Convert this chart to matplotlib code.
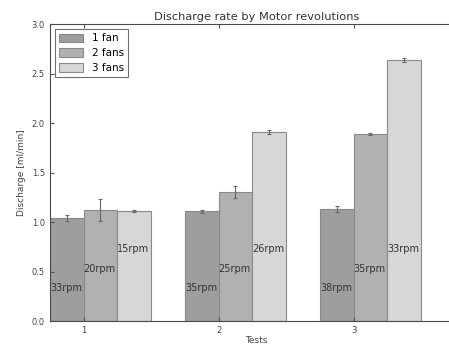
import numpy as np
import matplotlib.pyplot as plt

tests = ['1', '2', '3']
one_fan = [1.04, 1.11, 1.13]
one_fan_err = [0.03, 0.015, 0.03]
two_fans = [1.12, 1.30, 1.89]
two_fans_err = [0.11, 0.06, 0.01]
three_fans = [1.11, 1.91, 2.64]
three_fans_err = [0.01, 0.02, 0.02]
rpm_1 = ['33rpm', '35rpm', '38rpm']
rpm_2 = ['20rpm', '25rpm', '35rpm']
rpm_3 = ['15rpm', '26rpm', '33rpm']
label_y = [0.33, 0.53, 0.73]

ind = np.arange(len(tests))
width = 0.25

fig = plt.figure(figsize=(4.49, 3.49), dpi=100)
# axes run a little past the right edge, the right spine is cut off
ax = fig.add_axes([0.111, 0.080, 0.92, 0.851])

series = [(one_fan, one_fan_err, '#9e9ea1', '1 fan', rpm_1),
          (two_fans, two_fans_err, '#b1b1b4', '2 fans', rpm_2),
          (three_fans, three_fans_err, '#d7d7d9', '3 fans', rpm_3)]

for i, (vals, errs, col, lab, rpms) in enumerate(series):
    x = ind + i * width
    ax.bar(x, vals, width, align='edge', color=col, edgecolor='#8a8a8d',
           linewidth=0.8, label=lab)
    ax.errorbar(x + width / 2, vals, yerr=errs, fmt='none', ecolor='#666666',
                elinewidth=0.8, capsize=1.5, capthick=0.8)
    for xi, r in zip(x, rpms):
        ax.text(xi, label_y[i], r, fontsize=7, color='#333333',
                ha='left', va='center')

ax.set_xlim(0, 3.06)
ax.set_ylim(0, 3.0)
ax.set_yticks(np.arange(0, 3.01, 0.5))
ax.set_yticklabels(['%.1f' % v for v in np.arange(0, 3.01, 0.5)])
ax.set_xticks(ind + width)
ax.set_xticklabels(tests)

for s in ax.spines.values():
    s.set_color('#4a4a4a')
ax.tick_params(labelsize=6, colors='#555555', labelcolor='#444444',
               direction='in', length=3, top=True, right=True)

ax.set_title('Discharge rate by Motor revolutions', fontsize=8.2, color='#333333', pad=3)
ax.set_xlabel('Tests', fontsize=6.5, color='#444444', labelpad=1)
ax.set_ylabel('Discharge [ml/min]', fontsize=6.5, color='#444444', labelpad=4)

leg = ax.legend(loc='upper left', fontsize=7.5, fancybox=False, handlelength=2.3,
                handleheight=0.9, borderpad=0.4, labelspacing=0.45,
                borderaxespad=0.5)
leg.get_frame().set_edgecolor('#4a4a4a')
leg.get_frame().set_linewidth(0.8)

fig.savefig('out.png', dpi=100)
